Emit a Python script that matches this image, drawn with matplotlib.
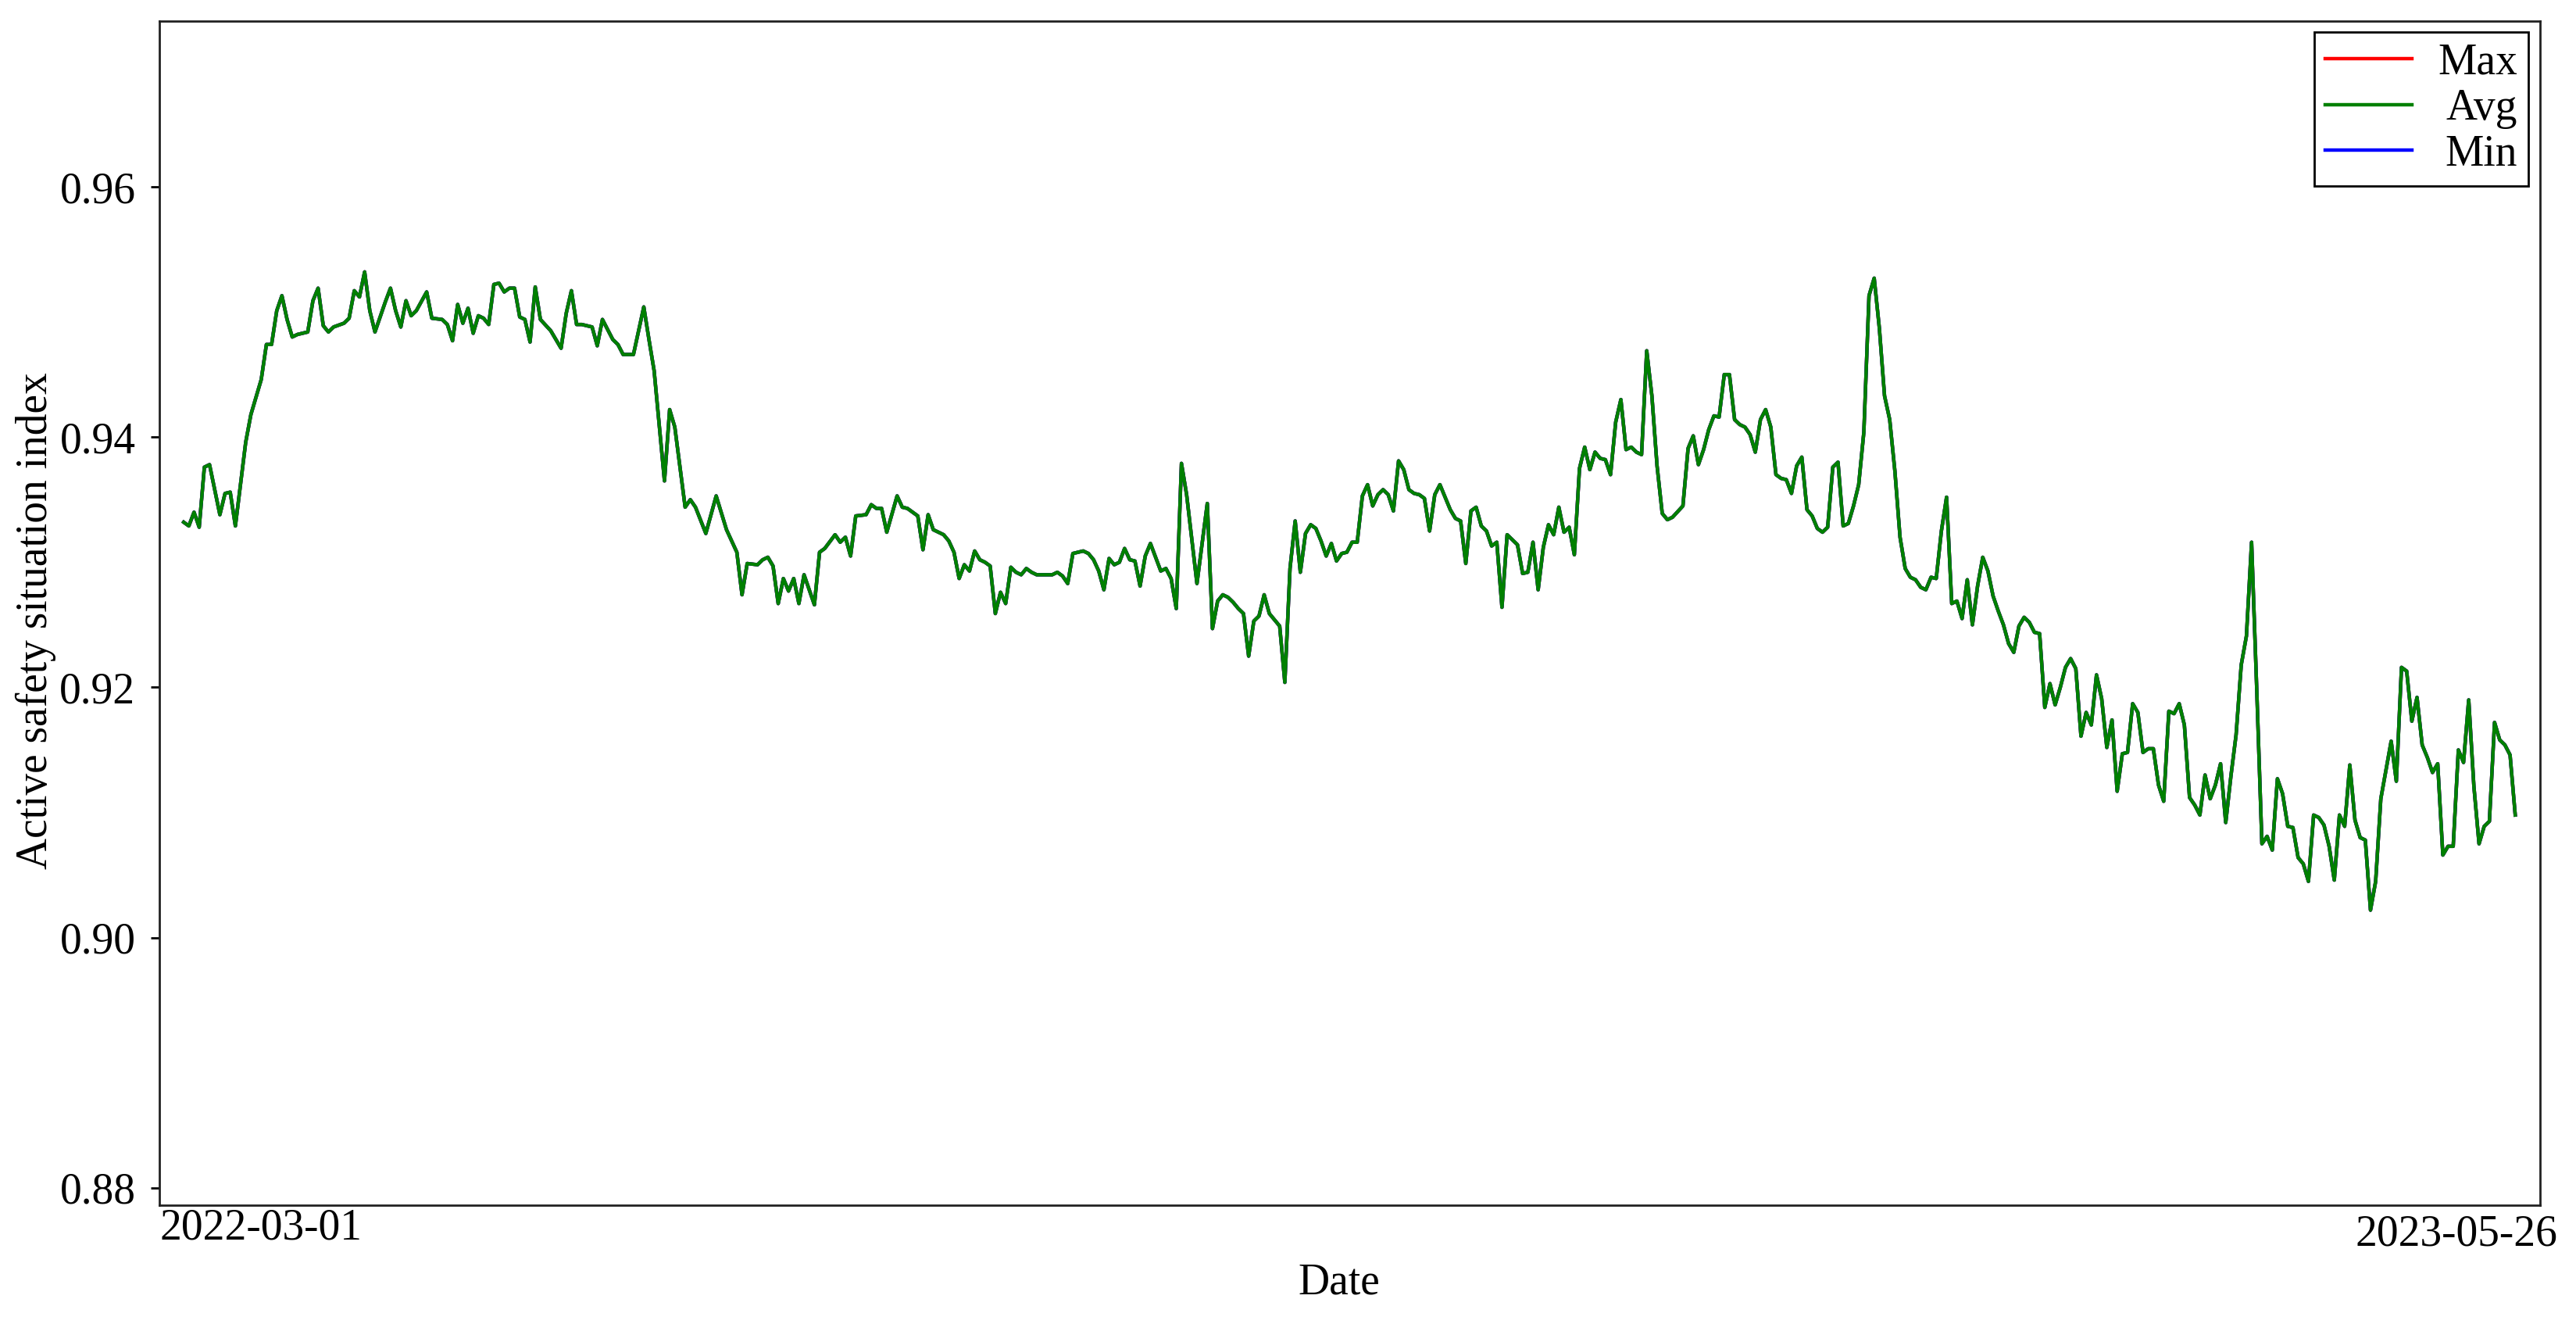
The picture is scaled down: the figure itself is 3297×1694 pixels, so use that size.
import numpy as np
import matplotlib
matplotlib.use('Agg')
import matplotlib.pyplot as plt
import matplotlib.dates as mdates
import matplotlib.transforms as mtransforms
from matplotlib.ticker import FormatStrFormatter

# ---------------- data ----------------
start_date = np.datetime64('2022-03-01')

day_offsets = [
    0, 1, 2, 3, 4, 5, 7, 8, 9, 10, 12, 13, 15, 16, 17, 18, 19, 20, 21, 22,
    24, 25, 26, 27, 28, 29, 31, 32, 33, 34, 35, 36, 37, 39, 40, 41, 42, 43, 44, 45,
    47, 48, 50, 51, 52, 53, 54, 55, 56, 57, 58, 59, 60, 61, 62, 63, 64, 65, 66, 67,
    68, 69, 71, 73, 74, 75, 76,
    77, 79, 80, 81, 83, 84, 85, 87, 89, 90, 91, 93, 94, 95, 97, 98, 99, 101, 103, 105,
    107, 108, 109, 111, 112, 113, 114, 115, 116, 117, 118, 119, 120, 122, 123, 124, 126, 127, 128, 129,
    130, 132, 133, 134, 135, 136, 138, 139, 140, 142, 143, 144, 145, 147, 148, 149, 150, 151, 152, 153,
    154, 155, 156, 157, 158, 159, 160, 161, 162, 163, 164, 165, 167, 168, 169, 170, 171, 172, 174, 175,
    176, 177, 178, 179, 180, 181, 182, 183, 184, 185, 186, 187, 188, 189, 190, 191, 192, 193, 194, 196,
    198, 199, 200, 201, 202,
    203, 204, 205, 206, 207, 208, 209, 210, 211, 212, 213, 214, 215, 216, 217, 218, 219, 220, 221, 222,
    223, 224, 225, 226, 227, 228, 229, 230, 231, 232, 233, 234, 235, 236, 237, 238, 239, 240, 241, 242,
    243, 244, 245, 246, 247, 248, 249, 250, 251, 252, 253, 254,
    255, 256, 257, 258, 259, 260, 261, 262, 263, 264, 265, 266, 267, 268, 269, 270, 271, 272, 273, 274,
    275, 276, 277, 278, 279, 280, 281, 282, 283, 284, 285, 286, 287, 288, 290, 291, 292, 293, 294, 295,
    296, 297, 298, 299, 300, 301, 302, 303, 304, 305, 306,
    307, 308, 309, 310, 311, 312, 313, 314, 315, 316, 317, 318, 319, 320, 321, 322, 323, 324, 325, 326,
    327, 328, 329, 330, 331, 332, 333, 334, 335, 336, 337, 338, 339, 340, 341, 342, 343, 344, 345, 346,
    347, 348, 349, 350, 351, 352, 353, 354, 355, 356, 357,
    358, 359, 360, 361, 362, 363, 364, 365, 366, 367, 368, 369, 370, 371, 372, 373, 374, 375, 376, 377,
    378, 379, 380, 381, 382, 383, 384, 385, 386, 387, 388, 389, 390, 391, 392, 393, 394, 395, 396, 397,
    398, 399, 400, 401, 402, 403, 404, 405, 406, 407, 408, 409,
    410, 411, 412, 413, 414, 415, 416, 417, 418, 419, 420, 421, 422, 423, 424, 425, 426, 427, 428, 429,
    430, 431, 432, 433, 434, 435, 436, 437, 438, 439, 440, 441, 442, 443, 444, 445, 446, 447, 448, 449,
    450, 451,
]

avg_values = [
    0.9332, 0.9329, 0.9340, 0.9328, 0.9376, 0.9378, 0.9338, 0.9355, 0.9356, 0.9329,
    0.9396, 0.9418, 0.9446, 0.9474, 0.9474, 0.9501, 0.9513, 0.9494, 0.9480, 0.9482,
    0.9484, 0.9509, 0.9519, 0.9489, 0.9484, 0.9488, 0.9491, 0.9495, 0.9517, 0.9512,
    0.9532, 0.9501, 0.9484, 0.9508, 0.9519, 0.9501, 0.9488, 0.9509, 0.9497, 0.9501,
    0.9516, 0.9495, 0.9494, 0.9490, 0.9477, 0.9506, 0.9491, 0.9503, 0.9483, 0.9497,
    0.9495, 0.9490, 0.9522, 0.9523, 0.9516, 0.9519, 0.9519, 0.9496, 0.9494, 0.9476,
    0.9520, 0.9494, 0.9485, 0.9471, 0.9499, 0.9517, 0.9490,
    0.9490, 0.9488, 0.9473, 0.9494, 0.9478, 0.9474, 0.9466, 0.9466, 0.9504, 0.9478,
    0.9453, 0.9365, 0.9422, 0.9408, 0.9344, 0.9350, 0.9344, 0.9323, 0.9353, 0.9326,
    0.9308, 0.9274, 0.9299, 0.9298, 0.9302, 0.9304, 0.9297, 0.9267, 0.9287, 0.9277,
    0.9287, 0.9267, 0.9290, 0.9266, 0.9308, 0.9311, 0.9322, 0.9316, 0.9320, 0.9305,
    0.9337, 0.9338, 0.9346, 0.9343, 0.9343, 0.9324, 0.9353, 0.9344, 0.9343, 0.9337,
    0.9310, 0.9338, 0.9326, 0.9322, 0.9317, 0.9308, 0.9287, 0.9298, 0.9293, 0.9309,
    0.9302, 0.9300, 0.9297, 0.9259, 0.9276, 0.9267, 0.9296, 0.9292, 0.9290, 0.9295,
    0.9292, 0.9290, 0.9290, 0.9290, 0.9292, 0.9289, 0.9283, 0.9307, 0.9309, 0.9307,
    0.9302, 0.9293, 0.9278, 0.9303, 0.9298, 0.9300, 0.9311, 0.9302, 0.9301, 0.9281,
    0.9305, 0.9315, 0.9304, 0.9293, 0.9295, 0.9287, 0.9263, 0.9379, 0.9354, 0.9283,
    0.9347, 0.9247, 0.9269, 0.9274, 0.9272,
    0.9268, 0.9263, 0.9259, 0.9225, 0.9253, 0.9257, 0.9274, 0.9259, 0.9254, 0.9249,
    0.9204, 0.9295, 0.9333, 0.9292, 0.9323, 0.9330, 0.9327, 0.9317, 0.9305, 0.9315,
    0.9301, 0.9307, 0.9308, 0.9316, 0.9316, 0.9353, 0.9362, 0.9345, 0.9354, 0.9358,
    0.9354, 0.9341, 0.9381, 0.9374, 0.9358, 0.9355, 0.9354, 0.9351, 0.9325, 0.9354,
    0.9362, 0.9352, 0.9342, 0.9335, 0.9333, 0.9299, 0.9341, 0.9344, 0.9329, 0.9325,
    0.9313, 0.9316,
    0.9264, 0.9322, 0.9318, 0.9314, 0.9291, 0.9292, 0.9316, 0.9278, 0.9312, 0.9330,
    0.9322, 0.9344, 0.9324, 0.9328, 0.9306, 0.9375, 0.9392, 0.9374, 0.9388, 0.9383,
    0.9382, 0.9370, 0.9412, 0.9430, 0.9390, 0.9392, 0.9388, 0.9386, 0.9469, 0.9433,
    0.9377, 0.9339, 0.9334, 0.9336, 0.9345, 0.9391, 0.9401, 0.9378, 0.9390, 0.9406,
    0.9417, 0.9416, 0.9450, 0.9450, 0.9414, 0.9410, 0.9408, 0.9402, 0.9388, 0.9414,
    0.9422,
    0.9408, 0.9370, 0.9367, 0.9366, 0.9355, 0.9377, 0.9384, 0.9342, 0.9337, 0.9327,
    0.9324, 0.9328, 0.9376, 0.9380, 0.9329, 0.9331, 0.9345, 0.9362, 0.9404, 0.9513,
    0.9527, 0.9487, 0.9433, 0.9414, 0.9373, 0.9320, 0.9295, 0.9288, 0.9286, 0.9280,
    0.9278, 0.9288, 0.9287, 0.9325, 0.9352, 0.9267, 0.9269, 0.9255, 0.9286, 0.9250,
    0.9281, 0.9304, 0.9293, 0.9273, 0.9261, 0.9250, 0.9235, 0.9228, 0.9249, 0.9256,
    0.9252,
    0.9244, 0.9243, 0.9184, 0.9203, 0.9186, 0.9200, 0.9216, 0.9223, 0.9215, 0.9161,
    0.9180, 0.9170, 0.9210, 0.9191, 0.9152, 0.9174, 0.9117, 0.9147, 0.9148, 0.9187,
    0.9180, 0.9148, 0.9151, 0.9151, 0.9122, 0.9109, 0.9181, 0.9179, 0.9187, 0.9170,
    0.9112, 0.9106, 0.9098, 0.9130, 0.9111, 0.9122, 0.9139, 0.9092, 0.9129, 0.9162,
    0.9218, 0.9241, 0.9316, 0.9198, 0.9075, 0.9081, 0.9070, 0.9127, 0.9115, 0.9089,
    0.9088, 0.9064,
    0.9059, 0.9045, 0.9098, 0.9096, 0.9090, 0.9073, 0.9046, 0.9098, 0.9089, 0.9138,
    0.9094, 0.9080, 0.9078, 0.9022, 0.9045, 0.9111, 0.9134, 0.9157, 0.9125, 0.9216,
    0.9213, 0.9173, 0.9192, 0.9154, 0.9144, 0.9132, 0.9139, 0.9066, 0.9073, 0.9073,
    0.9150, 0.9140, 0.9190, 0.9121, 0.9075, 0.9089, 0.9093, 0.9172, 0.9158, 0.9154,
    0.9146, 0.9098,
]

# Max / Min are not distinguishable from Avg in the picture (fully covered)
max_values = list(avg_values)
min_values = list(avg_values)

series_labels = ['Max', 'Avg', 'Min']
series_colors = ['red', 'green', 'blue']
y_ticks = [0.88, 0.90, 0.92, 0.94, 0.96]
x_label = 'Date'
y_label = 'Active safety situation index'

# ---------------- figure ----------------
plt.rcParams['font.family'] = ['Liberation Serif', 'DejaVu Serif']
plt.rcParams['font.size'] = 20

dates = start_date + np.array(day_offsets).astype('timedelta64[D]')
x = mdates.date2num(dates)

fig = plt.figure(figsize=(16.49, 8.47), dpi=200)
ax = fig.add_axes([0.061856, 0.0899, 0.92389, 0.89433])

h_max, = ax.plot(x, max_values, color=series_colors[0], lw=1.6, label=series_labels[0], zorder=2)
h_min, = ax.plot(x, min_values, color=series_colors[2], lw=1.6, label=series_labels[2], zorder=2)
h_avg, = ax.plot(x, avg_values, color=series_colors[1], lw=1.6, label=series_labels[1], zorder=3)

xmin = x[0] - 4.7
xmax = x[-1] + 4.8
ax.set_xlim(xmin, xmax)
ax.set_ylim(0.87864, 0.97326)

ax.set_yticks(y_ticks)
ax.yaxis.set_major_formatter(FormatStrFormatter('%.2f'))
ax.tick_params(axis='y', direction='out', length=4, width=1, pad=7, labelsize=20)

ax.set_xticks([xmin, xmax])
ax.set_xticklabels([str(dates[0]), str(dates[-1])])
ax.tick_params(axis='x', length=0, pad=1.5, labelsize=20)
xt = ax.get_xticklabels()
xt[0].set_ha('left')
xt[1].set_ha('right')
xt[1].set_transform(xt[1].get_transform() +
                    mtransforms.ScaledTranslation(22 / 200, -8 / 200, fig.dpi_scale_trans))

for s in ax.spines.values():
    s.set_linewidth(1.0)
    s.set_color('#222222')

ax.set_xlabel(x_label, fontsize=20)
ax.set_ylabel(y_label, fontsize=20)
ax.xaxis.set_label_coords(0.4956, -0.0484)
ax.yaxis.set_label_coords(-0.0433, 0.4935)

leg = ax.legend(handles=[h_max, h_avg, h_min], labels=series_labels,
                loc='upper right', bbox_to_anchor=(3236 / 3298, 1 - 40.7 / 1694),
                bbox_transform=fig.transFigure, borderaxespad=0,
                fancybox=False, edgecolor='black', framealpha=1,
                labelspacing=0.12, handletextpad=0.6, borderpad=0.25,
                handlelength=2.0, fontsize=20)
leg.get_frame().set_linewidth(1.0)
for lh in leg.get_lines():
    lh.set_linewidth(1.6)

# right-align the legend texts
fig.canvas.draw()
renderer = fig.canvas.get_renderer()
widths = [t.get_window_extent(renderer).width for t in leg.get_texts()]
wmax = max(widths)
for t, w in zip(leg.get_texts(), widths):
    t.set_transform(t.get_transform() + mtransforms.Affine2D().translate(wmax - w, 0))

fig.savefig('out.png', dpi=200)
